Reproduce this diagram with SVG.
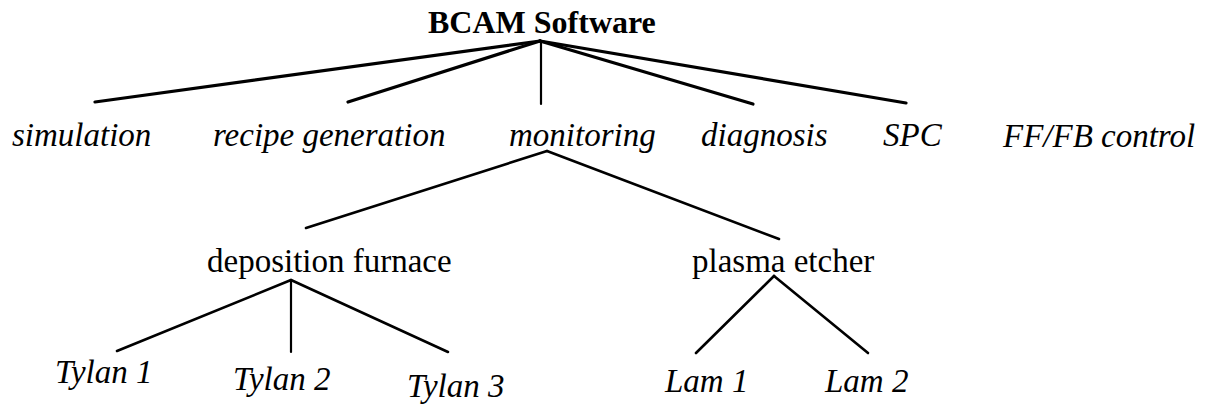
<svg xmlns="http://www.w3.org/2000/svg" width="1209" height="407" viewBox="0 0 1209 407">
<style>
.t{font-family:"Liberation Serif","Times New Roman",serif;font-size:33px;fill:#000}
.i{font-style:italic}
.b{font-weight:bold;font-size:32px}
.c line{stroke:#000;stroke-linecap:round}
.w3{stroke-width:3.2}
.w2{stroke-width:2.2}
.w25{stroke-width:2.6}
</style>
<rect width="1209" height="407" fill="#fff"/>
<g id="connectors" class="c">
<line class="w3" x1="540" y1="41" x2="95" y2="102"/>
<line class="w3" x1="540" y1="41" x2="348" y2="102"/>
<line class="w2" x1="541" y1="41" x2="541" y2="104"/>
<line class="w3" x1="540" y1="41" x2="753" y2="104"/>
<line class="w3" x1="540" y1="41" x2="906" y2="103"/>
<line class="w25" x1="547" y1="151" x2="306" y2="228"/>
<line class="w25" x1="547" y1="151" x2="779" y2="239"/>
<line class="w25" x1="291" y1="280" x2="117" y2="351"/>
<line class="w2" x1="291" y1="280" x2="291" y2="352"/>
<line class="w25" x1="291" y1="280" x2="448" y2="352"/>
<line class="w25" x1="774" y1="276" x2="696" y2="353"/>
<line class="w25" x1="774" y1="276" x2="868" y2="353"/>
</g>
<g id="n-bcam"><text class="t b" x="428" y="33">BCAM Software</text></g>
<g id="n-simulation"><text class="t i" x="12" y="146">simulation</text></g>
<g id="n-recipe"><text class="t i" x="213" y="146">recipe generation</text></g>
<g id="n-monitoring"><text class="t i" x="509" y="146">monitoring</text></g>
<g id="n-diagnosis"><text class="t i" x="701" y="146">diagnosis</text></g>
<g id="n-spc"><text class="t i" x="883" y="146">SPC</text></g>
<g id="n-ffb"><text class="t i" x="1003" y="147">FF/FB control</text></g>
<g id="n-deposition"><text class="t" x="207" y="272">deposition furnace</text></g>
<g id="n-plasma"><text class="t" x="692" y="272">plasma etcher</text></g>
<g id="n-tylan1"><text class="t i" x="55" y="383">Tylan 1</text></g>
<g id="n-tylan2"><text class="t i" x="233" y="390">Tylan 2</text></g>
<g id="n-tylan3"><text class="t i" x="407" y="397">Tylan 3</text></g>
<g id="n-lam1"><text class="t i" x="665" y="392">Lam 1</text></g>
<g id="n-lam2"><text class="t i" x="825" y="392">Lam 2</text></g>
</svg>
